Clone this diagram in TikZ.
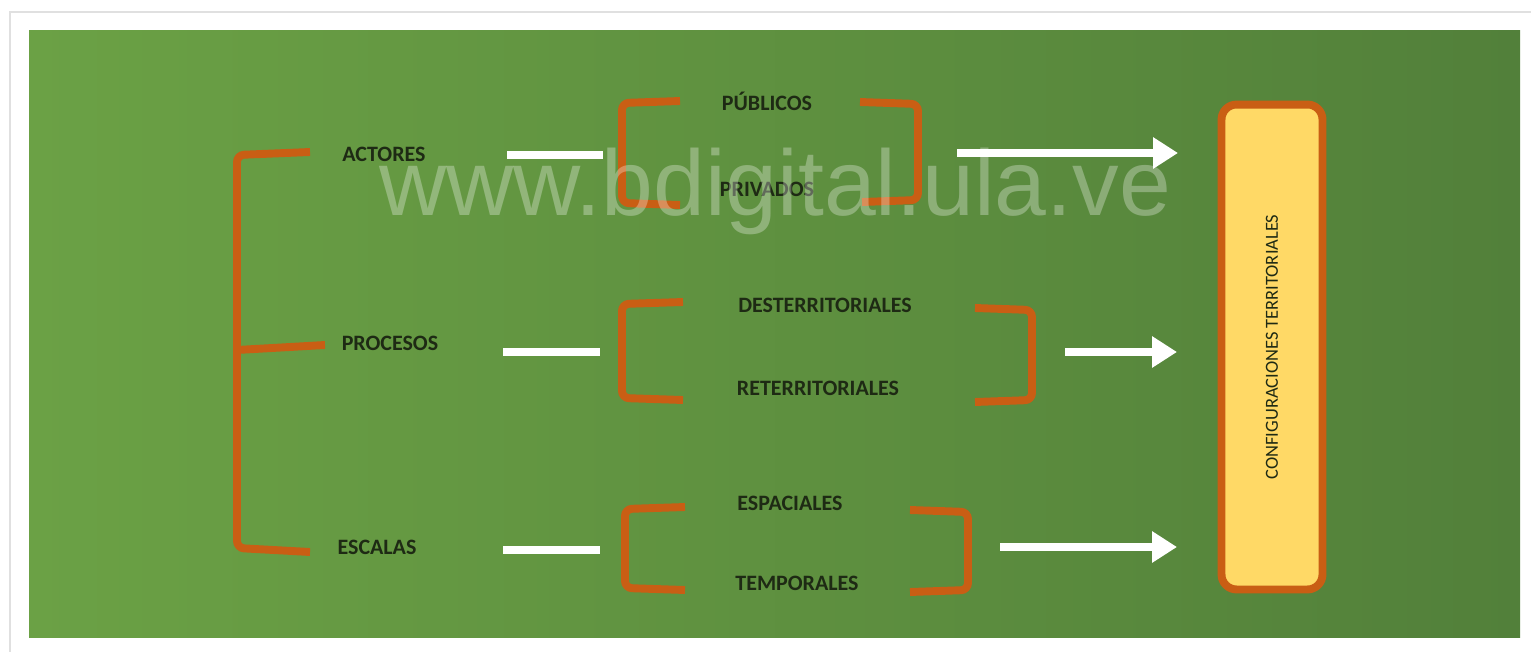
\documentclass[tikz,border=0pt]{standalone}
\usepackage{fontspec}
\setmainfont{Carlito}
\newfontfamily\markfont{Liberation Sans}
\usetikzlibrary{arrows.meta}
\definecolor{greenleft}{HTML}{6BA145}
\definecolor{greenright}{HTML}{52803A}
\definecolor{braceorange}{HTML}{C95E14}
\definecolor{boxyellow}{HTML}{FFD966}
\definecolor{labeltext}{HTML}{1E2A14}

\begin{document}
\begin{tikzpicture}[x=0.02cm, y=-0.02cm,
    lbl/.style={font=\bfseries\fontsize{12.5}{15}\selectfont, text=labeltext, inner sep=0pt, anchor=base},
    brace/.style={draw=braceorange, line width=4.5pt, rounded corners=4pt},
    link/.style={draw=white, line width=4.5pt},
    flow/.style={link, -{Triangle[length=0.5cm, width=0.6cm]}}]
    \useasboundingbox (0,0) rectangle (1531,652);

    % frame and background
    \draw[black!12, fill=white, line width=1.2pt] (10,12) rectangle (1534,655);
    \shade[left color=greenleft, right color=greenright] (29,31) rectangle (1520,637);

    % left column
    \node[lbl] (actores) at (384,161) {ACTORES};
    \node[lbl] (procesos) at (390,350) {PROCESOS};
    \node[lbl] (escalas) at (377,554) {ESCALAS};

    % middle column
    \node[lbl] (publicos) at (767,111) {PÚBLICOS};
    \node[lbl] (privados) at (767,196) {PRIVADOS};
    \node[lbl] (dester) at (825,312) {DESTERRITORIALES};
    \node[lbl] (reter) at (818,395) {RETERRITORIALES};
    \node[lbl] (espaciales) at (790,510) {ESPACIALES};
    \node[lbl] (temporales) at (797,590) {TEMPORALES};

    % result box
    \node[draw=braceorange, fill=boxyellow, line width=4.5pt, rounded corners=0.3cm,
          rotate=90, minimum width=9.7cm, minimum height=2.02cm,
          font=\fontsize{10.5}{12}\selectfont, text=labeltext] (config) at (1272,347)
          {CONFIGURACIONES TERRITORIALES};

    % brackets
    \draw[brace] (310,152) -- (237,155) -- (237,548) -- (310,552);
    \draw[brace] (237,350) -- (325,345);
    \draw[brace] (680,101) -- (622,103) -- (622,203) -- (680,205);
    \draw[brace] (860,102) -- (918,104) -- (918,200) -- (862,202);
    \draw[brace] (683,302) -- (622,304) -- (622,398) -- (683,400);
    \draw[brace] (975,308) -- (1032,310) -- (1032,400) -- (975,402);
    \draw[brace] (685,507) -- (625,509) -- (625,588) -- (685,590);
    \draw[brace] (910,510) -- (968,512) -- (968,590) -- (910,592);

    % connector ends
    \coordinate (a1) at (507,155);
    \coordinate (a2) at (603,155);
    \coordinate (p1) at (503,352);
    \coordinate (p2) at (600,352);
    \coordinate (e1) at (503,550);
    \coordinate (e2) at (600,550);
    \coordinate (r1) at (957,153);
    \coordinate (r2) at (1178,153);
    \coordinate (s1) at (1065,352);
    \coordinate (s2) at (1177,352);
    \coordinate (t1) at (1000,547);
    \coordinate (t2) at (1177,547);

    % connectors
    \draw[link] (a1) -- (a2);
    \draw[link] (p1) -- (p2);
    \draw[link] (e1) -- (e2);
    \draw[flow] (r1) -- (r2);
    \draw[flow] (s1) -- (s2);
    \draw[flow] (t1) -- (t2);

    % watermark
    \node[font=\markfont\fontsize{53}{53}\selectfont, text=white, text opacity=0.3,
          inner sep=0pt, anchor=base] (mark) at (775,215) {www.bdigital.ula.ve};
\end{tikzpicture}
\end{document}
